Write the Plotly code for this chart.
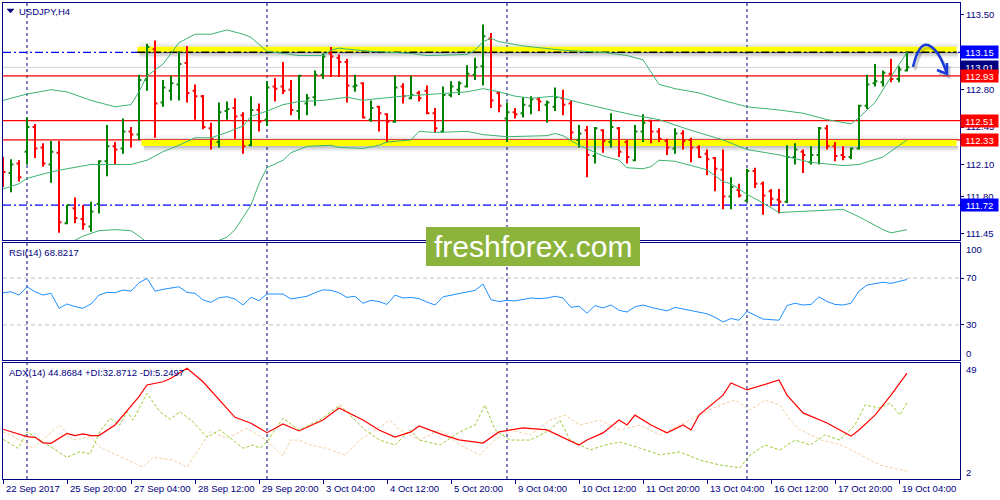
import plotly.graph_objects as go

# ---------------- data ----------------
bar_index = list(range(114))

opens = [112.07, 112.02, 112.11, 112.22, 112.45, 112.26, 112.10, 112.21, 111.55, 111.69,
         111.59, 111.52, 111.73, 112.13, 112.27, 112.25, 112.41, 112.38, 112.89, 113.18,
         112.68, 112.79, 112.85, 113.05, 112.79, 112.74, 112.44, 112.31, 112.60, 112.63,
         112.56, 112.28, 112.61, 112.52, 112.83, 112.83, 112.80, 112.60, 112.67, 112.73,
         112.94, 113.14, 113.10, 113.06, 112.83, 112.86, 112.52, 112.64, 112.57, 112.50,
         112.83, 112.72, 112.77, 112.79, 112.58, 112.41, 112.75, 112.80, 112.83, 112.94,
         113.02, 113.28, 112.77, 112.53, 112.59, 112.58, 112.65, 112.71, 112.66, 112.64,
         112.72, 112.67, 112.33, 112.42, 112.18, 112.42, 112.31, 112.44, 112.31, 112.14,
         112.41, 112.51, 112.41, 112.32, 112.25, 112.39, 112.33, 112.26, 112.20, 112.16,
         112.05, 111.80, 111.86, 111.76, 112.04, 111.92, 111.85, 111.77, 111.75, 112.17,
         112.22, 112.12, 112.19, 112.44, 112.27, 112.19, 112.17, 112.25, 112.65, 112.86,
         112.87, 112.95, 112.90, 112.98]
highs = [112.17, 112.15, 112.14, 112.54, 112.48, 112.30, 112.32, 112.32, 111.72, 111.79,
         111.72, 111.75, 112.14, 112.47, 112.31, 112.53, 112.45, 112.94, 113.23, 113.26,
         112.89, 112.93, 113.16, 113.21, 112.85, 112.75, 112.49, 112.68, 112.69, 112.72,
         112.59, 112.74, 112.67, 112.88, 112.91, 113.06, 112.89, 112.94, 112.76, 112.98,
         113.14, 113.20, 113.13, 113.09, 112.94, 112.87, 112.70, 112.65, 112.58, 112.93,
         112.86, 112.93, 112.79, 112.84, 112.63, 112.83, 112.88, 112.88, 113.03, 113.10,
         113.41, 113.33, 112.78, 112.68, 112.63, 112.73, 112.74, 112.73, 112.70, 112.82,
         112.80, 112.70, 112.47, 112.46, 112.45, 112.43, 112.58, 112.45, 112.33, 112.47,
         112.57, 112.52, 112.44, 112.34, 112.44, 112.42, 112.35, 112.28, 112.24, 112.17,
         112.24, 111.98, 111.92, 112.06, 112.07, 111.94, 111.87, 111.87, 112.28, 112.30,
         112.24, 112.27, 112.45, 112.47, 112.31, 112.27, 112.26, 112.66, 112.94, 113.04,
         112.98, 113.09, 113.02, 113.15]
lows = [111.89, 111.84, 111.94, 112.10, 112.16, 112.08, 111.93, 111.46, 111.54, 111.55,
        111.49, 111.47, 111.64, 111.99, 112.10, 112.20, 112.26, 112.33, 112.79, 112.35,
        112.64, 112.70, 112.70, 112.68, 112.52, 112.43, 112.24, 112.26, 112.52, 112.34,
        112.20, 112.27, 112.41, 112.46, 112.69, 112.76, 112.56, 112.52, 112.56, 112.65,
        112.90, 112.92, 112.92, 112.68, 112.78, 112.53, 112.50, 112.41, 112.31, 112.49,
        112.67, 112.71, 112.69, 112.57, 112.40, 112.40, 112.73, 112.75, 112.82, 112.89,
        112.84, 112.63, 112.59, 112.31, 112.53, 112.54, 112.57, 112.60, 112.49, 112.60,
        112.56, 112.33, 112.26, 111.98, 112.11, 112.21, 112.26, 112.17, 112.11, 112.13,
        112.31, 112.30, 112.31, 112.19, 112.20, 112.24, 112.12, 112.16, 112.00, 111.85,
        111.68, 111.68, 111.79, 111.75, 111.88, 111.63, 111.71, 111.64, 111.74, 112.10,
        112.02, 112.10, 112.10, 112.24, 112.13, 112.14, 112.15, 112.24, 112.62, 112.83,
        112.83, 112.87, 112.87, 112.97]
closes = [112.03, 112.10, 111.98, 112.45, 112.25, 112.11, 112.22, 111.56, 111.72, 111.60,
          111.54, 111.66, 112.13, 112.27, 112.24, 112.41, 112.38, 112.89, 113.20, 112.67,
          112.82, 112.86, 113.04, 112.77, 112.74, 112.45, 112.34, 112.59, 112.62, 112.55,
          112.27, 112.61, 112.50, 112.82, 112.81, 112.79, 112.61, 112.93, 112.72, 112.94,
          113.11, 113.11, 113.06, 112.84, 112.84, 112.54, 112.63, 112.58, 112.50, 112.82,
          112.74, 112.75, 112.72, 112.58, 112.44, 112.75, 112.83, 112.86, 112.95, 113.01,
          113.30, 112.70, 112.65, 112.59, 112.57, 112.66, 112.71, 112.69, 112.68, 112.73,
          112.66, 112.40, 112.39, 112.19, 112.44, 112.32, 112.45, 112.22, 112.17, 112.41,
          112.49, 112.41, 112.34, 112.26, 112.39, 112.32, 112.26, 112.17, 112.15, 112.06,
          111.80, 111.89, 111.81, 112.04, 111.92, 111.81, 111.78, 111.75, 112.17, 112.24,
          112.19, 112.19, 112.44, 112.27, 112.18, 112.17, 112.25, 112.65, 112.85, 112.88,
          112.96, 112.90, 112.99, 113.01]

bb_upper_idx = [0, 3, 6, 8, 11, 14, 16, 17, 18, 20, 22, 24, 26, 28, 30, 31, 33, 35, 37, 40,
                41, 42, 43, 46, 51, 53, 58, 59, 60, 61, 62, 65, 70, 75, 78, 80, 82, 84, 87, 90,
                93, 97, 100, 103, 106, 107, 109, 111, 113]
bb_upper = [112.70, 112.76, 112.80, 112.78, 112.70, 112.64, 112.66, 112.78, 112.93, 113.04,
            113.24, 113.32, 113.32, 113.36, 113.32, 113.29, 113.16, 113.14, 113.12, 113.12,
            113.17, 113.19, 113.18, 113.16, 113.14, 113.12, 113.13, 113.17, 113.25, 113.28,
            113.25, 113.21, 113.17, 113.15, 113.12, 113.08, 112.85, 112.81, 112.77, 112.70,
            112.64, 112.61, 112.58, 112.52, 112.48, 112.54, 112.68, 112.92, 113.15]
bb_mid_idx = [0, 2, 3, 6, 8, 11, 14, 16, 18, 20, 22, 24, 26, 28, 30, 31, 33, 35, 37, 40,
              43, 45, 46, 50, 54, 58, 60, 62, 64, 66, 69, 72, 76, 79, 82, 86, 90, 93, 97, 101,
              105, 107, 110, 113]
bb_mid = [111.87, 111.92, 111.97, 112.03, 112.06, 112.10, 112.10, 112.10, 112.14, 112.22,
          112.28, 112.35, 112.35, 112.40, 112.46, 112.55, 112.60, 112.66, 112.69, 112.70,
          112.73, 112.70, 112.71, 112.74, 112.76, 112.78, 112.81, 112.78, 112.74, 112.72,
          112.74, 112.68, 112.61, 112.56, 112.52, 112.42, 112.33, 112.24, 112.19, 112.12,
          112.09, 112.10, 112.17, 112.33]
bb_lower_idx = [0, 3, 6, 9, 10, 12, 14, 16, 17, 18, 20, 24, 26, 27, 28, 29, 30, 31, 32, 33,
                35, 36, 38, 41, 42, 45, 47, 48, 51, 52, 54, 58, 60, 63, 68, 69, 70, 72, 75, 77,
                78, 80, 81, 82, 84, 88, 90, 91, 93, 95, 97, 100, 105, 107, 110, 111, 113]
bb_lower = [111.08, 111.19, 111.29, 111.39, 111.43, 111.48, 111.49, 111.48, 111.43, 111.37,
            111.30, 111.30, 111.36, 111.39, 111.42, 111.49, 111.60, 111.72, 111.92, 112.07,
            112.14, 112.21, 112.27, 112.28, 112.26, 112.25, 112.28, 112.31, 112.33, 112.41,
            112.40, 112.41, 112.38, 112.36, 112.37, 112.39, 112.37, 112.28, 112.18, 112.14,
            112.07, 112.06, 112.08, 112.14, 112.13, 112.05, 111.94, 111.92, 111.82, 111.74,
            111.65, 111.66, 111.68, 111.61, 111.49, 111.46, 111.49]

rsi = [57.5, 58.3, 55.5, 62.6, 58.3, 55.5, 57.0, 44.2, 47.9, 45.6,
       44.2, 47.9, 55.5, 57.8, 57.5, 59.8, 58.9, 66.0, 69.7, 58.9,
       60.4, 61.2, 62.6, 57.8, 57.0, 51.3, 49.3, 53.2, 54.1, 52.1,
       47.0, 53.6, 50.7, 56.4, 56.4, 56.4, 52.1, 53.6, 54.5, 57.5,
       60.0, 59.5, 57.5, 53.5, 54.5, 48.5, 51.0, 50.0, 47.5, 55.5,
       53.0, 53.5, 52.5, 49.5, 47.0, 54.0, 55.5, 56.5, 58.5, 59.5,
       64.9, 51.5, 50.0, 51.0, 50.5, 52.0, 53.0, 52.5, 53.0, 54.5,
       53.0, 45.0, 46.0, 40.0, 46.5, 44.5, 47.0, 42.5, 41.0, 45.5,
       47.0, 45.0, 43.5, 42.0, 45.0, 43.5, 42.0, 41.0, 39.5, 36.5,
       32.5, 35.5, 34.0, 41.5, 38.5, 35.0, 34.5, 34.0, 46.5, 48.5,
       47.0, 47.5, 54.0, 50.0, 47.5, 47.0, 48.5, 59.0, 64.0, 65.0,
       66.5, 65.5, 67.0, 68.82]

adx_idx = [0, 3, 4, 5, 6, 8, 9, 10, 11, 12, 14, 16, 17, 18, 20, 21, 23, 25, 27, 29,
           31, 33, 35, 37, 40, 42, 45, 47, 49, 51, 52, 55, 57, 60, 62, 65, 68, 70, 72, 73,
           75, 77, 78, 79, 81, 83, 85, 86, 87, 90, 91, 93, 95, 97, 98, 100, 103, 106, 107, 109,
           111, 113]
adx = [22.2, 19.2, 18.9, 16.7, 16.5, 20.5, 19.6, 20.3, 19.6, 19.6, 23.9, 31.3, 35.4, 40.1, 41.4,
       42.8, 46.9, 41.4, 34.0, 27.0, 24.6, 20.8, 24.3, 21.5, 25.9, 30.8, 25.9, 21.9, 19.0, 21.1,
       23.5, 19.9, 17.9, 16.6, 21.1, 22.7, 21.9, 19.0, 15.8, 17.8, 20.7, 25.9, 23.9, 27.9, 23.9,
       20.7, 23.9, 21.9, 27.9, 36.0, 40.9, 38.1, 40.1, 42.1, 36.0, 28.8, 24.7, 19.4, 21.9, 27.9,
       36.0, 44.8684]
pdi_idx = [0, 1.9, 3, 5, 8, 9.6, 10.9, 12.1, 13.4, 14.6, 15.5, 16.25, 18, 19.6, 20.9, 22.1,
           23.75, 25.5, 27.1, 28.75, 30, 31.25, 32.1, 33, 35, 37, 39.6, 42.1, 43.4, 45.25, 47.1,
           49, 50.9, 52.1, 54.6, 57.1, 59, 60.25, 61.5, 63.4, 65.9, 68.4, 69.6, 70.9, 73.4, 75.25,
           77.1, 79.6, 82.1, 84.6, 87.1, 89.6, 92.1, 93.4, 95.25, 97.1, 99, 100.9, 102.75, 104.6,
           106.5, 107.75, 109.6, 110.9, 112.1, 113]
pdi = [18.1, 14.5, 21.2, 17.1, 10.8, 13.1, 12.2, 21.2, 26.6, 23.9, 29.3, 25.9, 36.7, 29.3, 26.2,
       29.3, 25.2, 18.9, 21.9, 17.8, 14.5, 15.8, 14.5, 17.1, 26.6, 21.9, 25.9, 32.0, 27.9, 21.9,
       17.8, 15.8, 21.9, 17.8, 15.8, 21.1, 23.9, 32.0, 21.9, 17.8, 17.8, 21.9, 25.9, 17.8, 13.8,
       15.8, 17.0, 14.6, 11.8, 13.0, 9.7, 7.7, 6.5, 11.8, 15.8, 13.8, 17.8, 15.8, 19.9, 17.8,
       23.9, 32.0, 30.8, 32.8, 27.9, 32.8712]
mdi_idx = [0, 2.1, 3.75, 7.1, 8.75, 10.9, 12.1, 13.75, 15.5, 17.5, 18.75, 21.25, 23, 24.6, 25.9,
           28, 30.5, 33, 35, 35.9, 37, 38.4, 40.25, 42.75, 44.6, 46.5, 48.4, 49.6, 52.1, 54.6,
           57.1, 59.6, 61.5, 63.4, 65.9, 68.4, 70.25, 72.1, 74.6, 77.1, 79.6, 82.1, 84.6, 87.1,
           89.6, 91.5, 93.4, 95.25, 97.1, 98.4, 99.6, 102.1, 104.6, 107.1, 109.6, 113]
mdi = [21.2, 17.8, 14.5, 23.9, 17.8, 19.2, 14.9, 12.4, 9.7, 6.8, 10.8, 9.7, 6.8, 14.9, 21.2,
       18.5, 22.6, 17.5, 11.3, 17.8, 17.8, 15.8, 14.6, 11.8, 17.8, 21.9, 25.9, 21.9, 17.8, 21.9,
       15.8, 11.8, 17.8, 21.9, 19.9, 25.9, 27.9, 23.9, 25.9, 21.9, 23.9, 19.9, 23.9, 28.0, 32.0,
       34.0, 30.0, 34.0, 32.0, 26.0, 22.0, 18.0, 16.0, 12.0, 7.7, 5.2497]

date_label_idx = [0, 8, 16, 24, 32, 40, 48, 56, 64, 72, 80, 88, 96, 104, 112]
date_labels = ['22 Sep 2017', '25 Sep 20:00', '27 Sep 04:00', '28 Sep 12:00', '29 Sep 20:00',
               '3 Oct 04:00', '4 Oct 12:00', '5 Oct 20:00', '9 Oct 04:00', '10 Oct 12:00',
               '11 Oct 20:00', '13 Oct 04:00', '16 Oct 12:00', '17 Oct 20:00', '19 Oct 04:00']
week_separator_idx = [3, 33, 63, 93]

price_ticks = [113.50, 112.80, 112.45, 112.10, 111.80, 111.45]
blue_levels = [113.15, 111.72]
red_levels = [112.93, 112.51, 112.33]
bid_level = 113.01
zone_levels = [113.15, 112.33]
box_values = [113.15, 113.01, 112.93, 112.51, 112.33, 111.72]
box_colors = ['#0000FF', '#000080', '#FF0000', '#FF0000', '#FF0000', '#0000FF']
rsi_levels = [70, 30]

symbol_label = 'USDJPY,H4'
rsi_label = 'RSI(14) 68.8217'
adx_label = 'ADX(14) 44.8684 +DI:32.8712 -DI:5.2497'
watermark = 'freshforex.com'

# ---------------- layout geometry ----------------
W, H = 1000, 500
FONT = 'Liberation Sans'
NAVY = '#000080'


def px(xp):
    return xp / W


def py(yp):
    return 1 - yp / H


X_DOM = [px(3), px(960)]
X_RANGE = [0, (960 - 3) / 8]
MAIN_DOM = [py(240), py(3)]
RSI_DOM = [py(360), py(243)]
ADX_DOM = [py(479), py(363)]
MAIN_RANGE = [111.393, 113.612]
RSI_RANGE = [0, 100]
ADX_RANGE = [2.04, 49]

fig = go.Figure()

# Bollinger bands
for xs, ys in [(bb_upper_idx, bb_upper), (bb_mid_idx, bb_mid), (bb_lower_idx, bb_lower)]:
    fig.add_trace(go.Scatter(x=xs, y=ys, mode='lines', xaxis='x', yaxis='y',
                             line=dict(color='#3CB371', width=1), hoverinfo='skip'))

# OHLC bars
fig.add_trace(go.Ohlc(x=bar_index, open=opens, high=highs, low=lows, close=closes,
                      xaxis='x', yaxis='y', tickwidth=0.3,
                      increasing=dict(line=dict(color='#008000', width=2)),
                      decreasing=dict(line=dict(color='#FF0000', width=2))))

# RSI
fig.add_trace(go.Scatter(x=bar_index, y=rsi, mode='lines', xaxis='x2', yaxis='y2',
                         line=dict(color='#1E90FF', width=1)))

# ADX
fig.add_trace(go.Scatter(x=mdi_idx, y=mdi, mode='lines', xaxis='x3', yaxis='y3',
                         line=dict(color='#F5CFA0', width=1, dash='3px,2px')))
fig.add_trace(go.Scatter(x=pdi_idx, y=pdi, mode='lines', xaxis='x3', yaxis='y3',
                         line=dict(color='#9ACD32', width=1, dash='3px,2px')))
fig.add_trace(go.Scatter(x=adx_idx, y=adx, mode='lines', xaxis='x3', yaxis='y3',
                         line=dict(color='#FF0000', width=1.2)))

shapes = []
# week separators in every panel
for xr, yr in [('x', 'y'), ('x2', 'y2'), ('x3', 'y3')]:
    for s in week_separator_idx:
        shapes.append(dict(type='line', xref=xr, yref=yr + ' domain', x0=s, x1=s, y0=0, y1=1,
                           line=dict(color=NAVY, width=1, dash='3px,3px'), layer='below'))

# blue dash-dot levels
for lv in blue_levels:
    shapes.append(dict(type='line', xref='x domain', yref='y', x0=0, x1=1, y0=lv, y1=lv,
                       line=dict(color='#0000FF', width=1.2, dash='8px,3px,2px,3px'), layer='below'))
# bid line
shapes.append(dict(type='line', xref='x domain', yref='y', x0=0, x1=1, y0=bid_level, y1=bid_level,
                   line=dict(color='#D0D0D0', width=1), layer='below'))

# yellow zones with soft shadows
zone_start = [16.8, 17.3]
zone_dir = [1, -1]
for lv, xs, d in zip(zone_levels, zone_start, zone_dir):
    unit = 1.0 / 106.8  # one pixel in price units
    y_band0, y_band1 = (lv, lv + 5.5 * unit) if d > 0 else (lv - 6 * unit, lv)
    for k, a in enumerate([0.30, 0.18, 0.08]):
        shapes.append(dict(type='rect', xref='x', yref='y', x0=xs + 0.3, x1=119.4,
                           y0=y_band0 - (k + 1) * 1.8 * unit, y1=y_band0 - k * 1.8 * unit,
                           fillcolor=f'rgba(60,60,60,{a})', line=dict(width=0), layer='below'))
    for k, a in enumerate([0.14, 0.07, 0.03]):
        shapes.append(dict(type='rect', xref='x', yref='y', x0=xs + 0.3, x1=119.4,
                           y0=y_band1 + k * 1.6 * unit, y1=y_band1 + (k + 1) * 1.6 * unit,
                           fillcolor=f'rgba(60,60,60,{a})', line=dict(width=0), layer='below'))
    shapes.append(dict(type='rect', xref='x', yref='y', x0=xs, x1=119.2, y0=y_band0, y1=y_band1,
                       fillcolor='#FFFF00', line=dict(width=0), layer='below'))

# black dash-dot on top zone
shapes.append(dict(type='line', xref='x', yref='y', x0=zone_start[0], x1=119.2,
                   y0=zone_levels[0], y1=zone_levels[0],
                   line=dict(color='#000000', width=1.5, dash='8px,3px,2px,3px'), layer='below'))
# red levels
for lv in red_levels:
    shapes.append(dict(type='line', xref='x domain', yref='y', x0=0, x1=1, y0=lv, y1=lv,
                       line=dict(color='#FF0000', width=1.3), layer='below'))
# RSI levels
for lv in rsi_levels:
    shapes.append(dict(type='line', xref='x2 domain', yref='y2', x0=0, x1=1, y0=lv, y1=lv,
                       line=dict(color='#C0C0C0', width=1, dash='4px,3px'), layer='below'))

# symbol triangle
shapes.append(dict(type='path', xref='paper', yref='paper',
                   path=f'M {px(7)},{py(9)} L {px(14)},{py(9)} L {px(10.5)},{py(13)} Z',
                   fillcolor=NAVY, line=dict(color=NAVY, width=0.5)))


def arrow_path(dx, dy):
    p = lambda a, b: f'{px(a + dx)},{py(b + dy)}'
    return (f'M {p(913, 67)} Q {p(919, 42)} {p(928, 45)} Q {p(939, 49)} {p(947, 74)} '
            f'M {p(937, 70)} L {p(947, 74)} L {p(947, 63)}')


shapes.append(dict(type='path', xref='paper', yref='paper', path=arrow_path(2, 3),
                   line=dict(color='rgba(0,0,0,0.18)', width=3)))
shapes.append(dict(type='path', xref='paper', yref='paper', path=arrow_path(0, 0),
                   line=dict(color='#1A3AD8', width=2.5)))

# watermark box
shapes.append(dict(type='rect', xref='paper', yref='paper', x0=px(426), x1=px(640),
                   y0=py(266), y1=py(227), fillcolor='#8CB43C', line=dict(width=0), layer='above'))

annotations = []
lab_font = dict(family=FONT, size=9.5, color=NAVY)
annotations.append(dict(x=px(17), y=py(11), xref='paper', yref='paper', xanchor='left',
                        yanchor='middle', text=symbol_label, showarrow=False, font=lab_font))
annotations.append(dict(x=px(7), y=py(252), xref='paper', yref='paper', xanchor='left',
                        yanchor='middle', text=rsi_label, showarrow=False, font=lab_font))
annotations.append(dict(x=px(7), y=py(372), xref='paper', yref='paper', xanchor='left',
                        yanchor='middle', text=adx_label, showarrow=False, font=lab_font))
for i, t in zip(date_label_idx, date_labels):
    annotations.append(dict(x=i, y=py(488), xref='x3', yref='paper', xanchor='left',
                            yanchor='middle', xshift=1, text=t, showarrow=False, font=lab_font))
for t, yp in [('100', 249), ('0', 353), ('49', 369), ('2', 472)]:
    annotations.append(dict(x=px(964), y=py(yp), xref='paper', yref='paper', xanchor='left',
                            yanchor='middle', text=t, showarrow=False, font=lab_font))
for v, c in zip(box_values, box_colors):
    annotations.append(dict(x=px(960), y=v, xref='paper', yref='y', xanchor='left',
                            yanchor='middle', text=f'{v:.2f}', showarrow=False, bgcolor=c,
                            width=36, height=11, borderpad=0.5,
                            font=dict(family=FONT, size=9.5, color='white')))
annotations.append(dict(x=px(533), y=py(246), xref='paper', yref='paper', xanchor='center',
                        yanchor='middle', text=watermark, showarrow=False,
                        font=dict(family=FONT, size=30, color='white')))

axis_common = dict(showline=True, linecolor=NAVY, linewidth=1, mirror=True,
                   showgrid=False, zeroline=False)
yaxis_common = dict(side='right', ticks='outside', ticklen=3, tickcolor=NAVY,
                    tickfont=dict(family=FONT, size=9.5, color=NAVY), **axis_common)

fig.update_layout(
    width=W, height=H, margin=dict(l=0, r=0, t=0, b=0),
    paper_bgcolor='white', plot_bgcolor='white', showlegend=False, hovermode=False,
    xaxis=dict(domain=X_DOM, range=X_RANGE, anchor='y', showticklabels=False,
               rangeslider=dict(visible=False), **axis_common),
    xaxis2=dict(domain=X_DOM, range=X_RANGE, anchor='y2', showticklabels=False, **axis_common),
    xaxis3=dict(domain=X_DOM, range=X_RANGE, anchor='y3', showticklabels=False,
                ticks='outside', ticklen=4, tickcolor=NAVY, tickvals=date_label_idx,
                **axis_common),
    yaxis=dict(domain=MAIN_DOM, range=MAIN_RANGE, anchor='x', tickvals=price_ticks,
               ticktext=[f'{v:.2f}' for v in price_ticks], **yaxis_common),
    yaxis2=dict(domain=RSI_DOM, range=RSI_RANGE, anchor='x2', tickvals=rsi_levels,
                ticktext=[str(v) for v in rsi_levels], **yaxis_common),
    yaxis3=dict(domain=ADX_DOM, range=ADX_RANGE, anchor='x3', tickvals=[],
                **yaxis_common),
    shapes=shapes, annotations=annotations,
)

fig.write_html('out.html', config={'displayModeBar': False},
               post_script="document.body.style.margin='0';document.body.style.overflow='hidden';")
